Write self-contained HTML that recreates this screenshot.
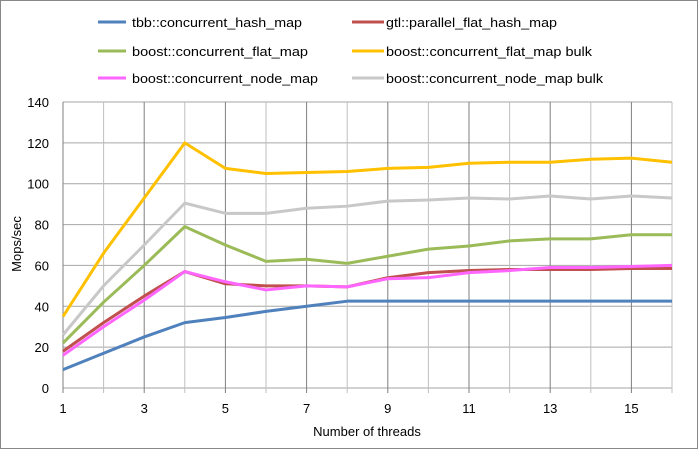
<!DOCTYPE html><html><head><style>body{margin:0;background:#fff}svg{display:block;font-family:"Liberation Sans",sans-serif}</style></head><body>
<svg id="s" width="698" height="449" xmlns="http://www.w3.org/2000/svg">
<rect x="0.5" y="0.5" width="697" height="448" fill="#fff" stroke="#888"/>
<g id="g"></g>
<g font-size="13" fill="#000">
<line x1="98" y1="22" x2="126" y2="22" stroke="#4f81bd" stroke-width="3"/><text x="132" y="27" textLength="170" lengthAdjust="spacingAndGlyphs">tbb::concurrent_hash_map</text>
<line x1="352" y1="22" x2="384" y2="22" stroke="#c0504d" stroke-width="3"/><text x="386" y="27" textLength="171" lengthAdjust="spacingAndGlyphs">gtl::parallel_flat_hash_map</text>
<line x1="98" y1="51" x2="126" y2="51" stroke="#9bbb59" stroke-width="3"/><text x="132" y="56" textLength="176" lengthAdjust="spacingAndGlyphs">boost::concurrent_flat_map</text>
<line x1="352" y1="51" x2="384" y2="51" stroke="#ffc000" stroke-width="3"/><text x="386" y="56" textLength="206" lengthAdjust="spacingAndGlyphs">boost::concurrent_flat_map bulk</text>
<line x1="98" y1="78" x2="126" y2="78" stroke="#ff66ff" stroke-width="3"/><text x="132" y="83" textLength="186" lengthAdjust="spacingAndGlyphs">boost::concurrent_node_map</text>
<line x1="352" y1="78" x2="384" y2="78" stroke="#c8c8c8" stroke-width="3"/><text x="386" y="83" textLength="217" lengthAdjust="spacingAndGlyphs">boost::concurrent_node_map bulk</text>
<text x="367" y="436" text-anchor="middle">Number of threads</text>
<text transform="translate(21,244) rotate(-90)" text-anchor="middle">Mops/sec</text>
</g>
</svg>
<script>
var g=document.getElementById('g'),h='';
var L=63,R=672,T=102,B=388;
function X(t){return L+(t-1)*(R-L)/15}function Y(v){return B-v*(B-T)/140}
for(var v=0;v<=140;v+=20){h+='<line x1="'+L+'" x2="'+R+'" y1="'+Y(v)+'" y2="'+Y(v)+'" stroke="#a6a6a6"/>';h+='<text x="49" y="'+(Y(v)+5)+'" text-anchor="end" font-size="13">'+v+'</text>';}
for(var t=1;t<=16;t++){h+='<line x1="'+X(t)+'" x2="'+X(t)+'" y1="'+T+'" y2="'+(B+5)+'" stroke="'+(t%2?'#7f7f7f':'#bfbfbf')+'"/>';if(t%2)h+='<text x="'+X(t)+'" y="'+(B+25)+'" text-anchor="middle" font-size="13">'+t+'</text>';}
var S=[["#c8c8c8",[26,50,70,90.5,85.5,85.5,88,89,91.5,92,93,92.5,94,92.5,94,93]],
["#ffc000",[35,66,93,120,107.5,105,105.5,106,107.5,108,110,110.5,110.5,112,112.5,110.5]],
["#9bbb59",[22,42,60,79,70,62,63,61,64.5,68,69.5,72,73,73,75,75]],
["#4f81bd",[9,17,25,32,34.5,37.5,40,42.5,42.5,42.5,42.5,42.5,42.5,42.5,42.5,42.5]],
["#c0504d",[18,32,45,57,51,50,50,49.5,54,56.5,57.5,58,58,58,58.5,58.5]],
["#ff66ff",[16,30,43,57,52,48,50,49.5,53.5,54,56.5,57.5,59,59,59.5,60]]];
S.forEach(function(s){var p=s[1].map(function(v,i){return X(i+1)+','+Y(v)}).join(' ');h+='<polyline points="'+p+'" fill="none" stroke="'+s[0]+'" stroke-width="3" stroke-linejoin="round"/>';});
g.innerHTML=h;
</script>
</body></html>
